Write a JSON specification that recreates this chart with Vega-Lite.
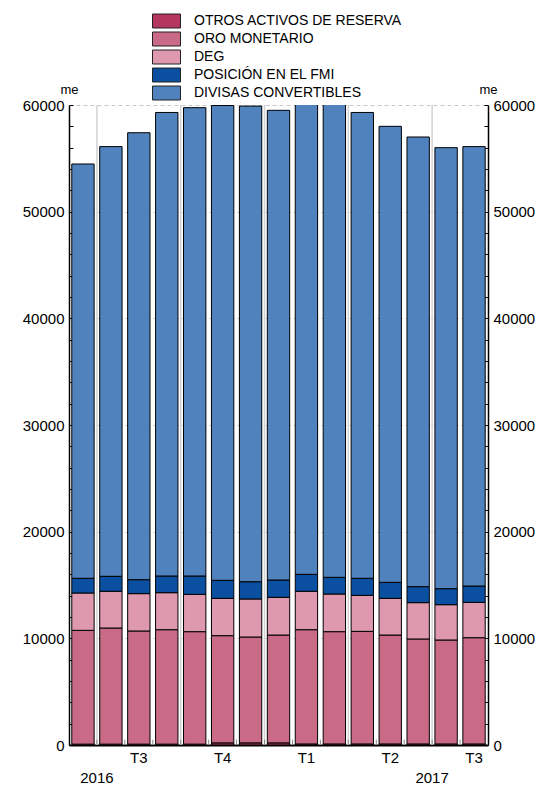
{
  "$schema": "https://vega.github.io/schema/vega-lite/v6.json",
  "width": 419,
  "height": 640,
  "autosize": {"type": "none"},
  "padding": {"left": 69, "top": 105, "right": 57, "bottom": 41},
  "config": {
    "view": {"stroke": null},
    "font": "Liberation Sans",
    "axis": {"labelColor": "#000", "titleColor": "#000", "domainColor": "#000", "tickColor": "#000", "labelFont": "Liberation Sans", "titleFont": "Liberation Sans"},
    "axisX": {
      "orient": "bottom", "ticks": false, "labelAngle": 0, "labelFontSize": 15,
      "labelPadding": 5, "labelLineHeight": 20, "labelBaseline": "top", "labelOverlap": false,
      "domainWidth": 2, "grid": false, "title": null
    },
    "legend": {"labelFont": "Liberation Sans"}
  },
  "datasets": {
    "reservas": [
      {"mes": "2016-06", "componente": "OTROS ACTIVOS DE RESERVA", "orden": 1, "valor": 80},
      {"mes": "2016-06", "componente": "ORO MONETARIO", "orden": 2, "valor": 10670},
      {"mes": "2016-06", "componente": "DEG", "orden": 3, "valor": 3500},
      {"mes": "2016-06", "componente": "POSICIÓN EN EL FMI", "orden": 4, "valor": 1380},
      {"mes": "2016-06", "componente": "DIVISAS CONVERTIBLES", "orden": 5, "valor": 38840},
      {"mes": "2016-07", "componente": "OTROS ACTIVOS DE RESERVA", "orden": 1, "valor": 80},
      {"mes": "2016-07", "componente": "ORO MONETARIO", "orden": 2, "valor": 10890},
      {"mes": "2016-07", "componente": "DEG", "orden": 3, "valor": 3440},
      {"mes": "2016-07", "componente": "POSICIÓN EN EL FMI", "orden": 4, "valor": 1405},
      {"mes": "2016-07", "componente": "DIVISAS CONVERTIBLES", "orden": 5, "valor": 40285},
      {"mes": "2016-08", "componente": "OTROS ACTIVOS DE RESERVA", "orden": 1, "valor": 80},
      {"mes": "2016-08", "componente": "ORO MONETARIO", "orden": 2, "valor": 10610},
      {"mes": "2016-08", "componente": "DEG", "orden": 3, "valor": 3500},
      {"mes": "2016-08", "componente": "POSICIÓN EN EL FMI", "orden": 4, "valor": 1310},
      {"mes": "2016-08", "componente": "DIVISAS CONVERTIBLES", "orden": 5, "valor": 41900},
      {"mes": "2016-09", "componente": "OTROS ACTIVOS DE RESERVA", "orden": 1, "valor": 80},
      {"mes": "2016-09", "componente": "ORO MONETARIO", "orden": 2, "valor": 10730},
      {"mes": "2016-09", "componente": "DEG", "orden": 3, "valor": 3470},
      {"mes": "2016-09", "componente": "POSICIÓN EN EL FMI", "orden": 4, "valor": 1565},
      {"mes": "2016-09", "componente": "DIVISAS CONVERTIBLES", "orden": 5, "valor": 43455},
      {"mes": "2016-10", "componente": "OTROS ACTIVOS DE RESERVA", "orden": 1, "valor": 80},
      {"mes": "2016-10", "componente": "ORO MONETARIO", "orden": 2, "valor": 10545},
      {"mes": "2016-10", "componente": "DEG", "orden": 3, "valor": 3500},
      {"mes": "2016-10", "componente": "POSICIÓN EN EL FMI", "orden": 4, "valor": 1720},
      {"mes": "2016-10", "componente": "DIVISAS CONVERTIBLES", "orden": 5, "valor": 43905},
      {"mes": "2016-11", "componente": "OTROS ACTIVOS DE RESERVA", "orden": 1, "valor": 200},
      {"mes": "2016-11", "componente": "ORO MONETARIO", "orden": 2, "valor": 10050},
      {"mes": "2016-11", "componente": "DEG", "orden": 3, "valor": 3500},
      {"mes": "2016-11", "componente": "POSICIÓN EN EL FMI", "orden": 4, "valor": 1690},
      {"mes": "2016-11", "componente": "DIVISAS CONVERTIBLES", "orden": 5, "valor": 44510},
      {"mes": "2016-12", "componente": "OTROS ACTIVOS DE RESERVA", "orden": 1, "valor": 200},
      {"mes": "2016-12", "componente": "ORO MONETARIO", "orden": 2, "valor": 9925},
      {"mes": "2016-12", "componente": "DEG", "orden": 3, "valor": 3565},
      {"mes": "2016-12", "componente": "POSICIÓN EN EL FMI", "orden": 4, "valor": 1620},
      {"mes": "2016-12", "componente": "DIVISAS CONVERTIBLES", "orden": 5, "valor": 44590},
      {"mes": "2017-01", "componente": "OTROS ACTIVOS DE RESERVA", "orden": 1, "valor": 200},
      {"mes": "2017-01", "componente": "ORO MONETARIO", "orden": 2, "valor": 10110},
      {"mes": "2017-01", "componente": "DEG", "orden": 3, "valor": 3535},
      {"mes": "2017-01", "componente": "POSICIÓN EN EL FMI", "orden": 4, "valor": 1625},
      {"mes": "2017-01", "componente": "DIVISAS CONVERTIBLES", "orden": 5, "valor": 44030},
      {"mes": "2017-02", "componente": "OTROS ACTIVOS DE RESERVA", "orden": 1, "valor": 100},
      {"mes": "2017-02", "componente": "ORO MONETARIO", "orden": 2, "valor": 10710},
      {"mes": "2017-02", "componente": "DEG", "orden": 3, "valor": 3600},
      {"mes": "2017-02", "componente": "POSICIÓN EN EL FMI", "orden": 4, "valor": 1590},
      {"mes": "2017-02", "componente": "DIVISAS CONVERTIBLES", "orden": 5, "valor": 44300},
      {"mes": "2017-03", "componente": "OTROS ACTIVOS DE RESERVA", "orden": 1, "valor": 100},
      {"mes": "2017-03", "componente": "ORO MONETARIO", "orden": 2, "valor": 10525},
      {"mes": "2017-03", "componente": "DEG", "orden": 3, "valor": 3530},
      {"mes": "2017-03", "componente": "POSICIÓN EN EL FMI", "orden": 4, "valor": 1565},
      {"mes": "2017-03", "componente": "DIVISAS CONVERTIBLES", "orden": 5, "valor": 44480},
      {"mes": "2017-04", "componente": "OTROS ACTIVOS DE RESERVA", "orden": 1, "valor": 100},
      {"mes": "2017-04", "componente": "ORO MONETARIO", "orden": 2, "valor": 10555},
      {"mes": "2017-04", "componente": "DEG", "orden": 3, "valor": 3375},
      {"mes": "2017-04", "componente": "POSICIÓN EN EL FMI", "orden": 4, "valor": 1600},
      {"mes": "2017-04", "componente": "DIVISAS CONVERTIBLES", "orden": 5, "valor": 43670},
      {"mes": "2017-05", "componente": "OTROS ACTIVOS DE RESERVA", "orden": 1, "valor": 100},
      {"mes": "2017-05", "componente": "ORO MONETARIO", "orden": 2, "valor": 10210},
      {"mes": "2017-05", "componente": "DEG", "orden": 3, "valor": 3440},
      {"mes": "2017-05", "componente": "POSICIÓN EN EL FMI", "orden": 4, "valor": 1500},
      {"mes": "2017-05", "componente": "DIVISAS CONVERTIBLES", "orden": 5, "valor": 42750},
      {"mes": "2017-06", "componente": "OTROS ACTIVOS DE RESERVA", "orden": 1, "valor": 100},
      {"mes": "2017-06", "componente": "ORO MONETARIO", "orden": 2, "valor": 9840},
      {"mes": "2017-06", "componente": "DEG", "orden": 3, "valor": 3405},
      {"mes": "2017-06", "componente": "POSICIÓN EN EL FMI", "orden": 4, "valor": 1500},
      {"mes": "2017-06", "componente": "DIVISAS CONVERTIBLES", "orden": 5, "valor": 42155},
      {"mes": "2017-07", "componente": "OTROS ACTIVOS DE RESERVA", "orden": 1, "valor": 100},
      {"mes": "2017-07", "componente": "ORO MONETARIO", "orden": 2, "valor": 9745},
      {"mes": "2017-07", "componente": "DEG", "orden": 3, "valor": 3310},
      {"mes": "2017-07", "componente": "POSICIÓN EN EL FMI", "orden": 4, "valor": 1500},
      {"mes": "2017-07", "componente": "DIVISAS CONVERTIBLES", "orden": 5, "valor": 41345},
      {"mes": "2017-08", "componente": "OTROS ACTIVOS DE RESERVA", "orden": 1, "valor": 100},
      {"mes": "2017-08", "componente": "ORO MONETARIO", "orden": 2, "valor": 9960},
      {"mes": "2017-08", "componente": "DEG", "orden": 3, "valor": 3315},
      {"mes": "2017-08", "componente": "POSICIÓN EN EL FMI", "orden": 4, "valor": 1530},
      {"mes": "2017-08", "componente": "DIVISAS CONVERTIBLES", "orden": 5, "valor": 41195}
    ],
    "meses": [
      {"mes": "2016-06", "inicio_trimestre": false},
      {"mes": "2016-07", "inicio_trimestre": true},
      {"mes": "2016-08", "inicio_trimestre": false},
      {"mes": "2016-09", "inicio_trimestre": false},
      {"mes": "2016-10", "inicio_trimestre": true},
      {"mes": "2016-11", "inicio_trimestre": false},
      {"mes": "2016-12", "inicio_trimestre": false},
      {"mes": "2017-01", "inicio_trimestre": true},
      {"mes": "2017-02", "inicio_trimestre": false},
      {"mes": "2017-03", "inicio_trimestre": false},
      {"mes": "2017-04", "inicio_trimestre": true},
      {"mes": "2017-05", "inicio_trimestre": false},
      {"mes": "2017-06", "inicio_trimestre": false},
      {"mes": "2017-07", "inicio_trimestre": true},
      {"mes": "2017-08", "inicio_trimestre": false}
    ]
  },
  "layer": [
    {
      "data": {"name": "meses"},
      "transform": [{"filter": "datum.inicio_trimestre"}],
      "mark": {"type": "rule", "color": "#d2d2d2", "strokeWidth": 1.5},
      "encoding": {
        "x": {
          "field": "mes", "type": "ordinal", "bandPosition": -0.125, "title": null,
          "scale": {"paddingInner": 0.2, "paddingOuter": 0.1},
          "axis": {
            "labelExpr": "indexof(datum.value,'-08')>0 ? 'T3' : indexof(datum.value,'-11')>0 ? 'T4' : indexof(datum.value,'-02')>0 ? 'T1' : indexof(datum.value,'-05')>0 ? 'T2' : datum.value == '2016-07' ? ['', '2016'] : datum.value == '2017-07' ? ['', '2017'] : ''",
            "labelOffset": {"condition": {"test": "datum.value == '2016-07' || datum.value == '2017-07'", "value": -14}, "value": 0}
          }
        }
      }
    },
    {
      "data": {"name": "reservas"},
      "mark": {"type": "bar", "stroke": "#000", "strokeWidth": 1, "clip": true},
      "encoding": {
        "x": {
          "field": "mes", "type": "ordinal", "title": null,
          "scale": {"paddingInner": 0.2, "paddingOuter": 0.1},
          "axis": {
            "labelExpr": "indexof(datum.value,'-08')>0 ? 'T3' : indexof(datum.value,'-11')>0 ? 'T4' : indexof(datum.value,'-02')>0 ? 'T1' : indexof(datum.value,'-05')>0 ? 'T2' : datum.value == '2016-07' ? ['', '2016'] : datum.value == '2017-07' ? ['', '2017'] : ''",
            "labelOffset": {"condition": {"test": "datum.value == '2016-07' || datum.value == '2017-07'", "value": -14}, "value": 0}
          }
        },
        "y": {
          "field": "valor", "type": "quantitative", "stack": "zero",
          "scale": {"domain": [0, 60000], "nice": false},
          "axis": {
            "orient": "left",
            "values": [0, 2000, 4000, 6000, 8000, 10000, 12000, 14000, 16000, 18000, 20000, 22000, 24000, 26000, 28000, 30000, 32000, 34000, 36000, 38000, 40000, 42000, 44000, 46000, 48000, 50000, 52000, 54000, 56000, 58000, 60000],
            "labelExpr": "datum.value % 10000 === 0 ? format(datum.value, 'd') : ''",
            "labelOverlap": false, "labelFlush": false,
            "tickSize": -4, "tickWidth": 1, "labelPadding": 9, "labelFontSize": 15,
            "domainWidth": 1.5,
            "title": "me", "titleAngle": 0, "titleX": 0, "titleY": -12, "titleAlign": "center",
            "titleBaseline": "alphabetic", "titleFontWeight": "normal", "titleFontSize": 13,
            "grid": true, "gridColor": "#c8c8c8", "gridDash": [4, 3],
            "gridOpacity": {"condition": {"test": "datum.value % 10000 === 0", "value": 1}, "value": 0}
          }
        },
        "order": {"field": "orden", "type": "quantitative", "sort": "ascending"},
        "color": {
          "field": "componente", "type": "nominal",
          "sort": ["OTROS ACTIVOS DE RESERVA", "ORO MONETARIO", "DEG", "POSICIÓN EN EL FMI", "DIVISAS CONVERTIBLES"],
          "scale": {
            "domain": ["OTROS ACTIVOS DE RESERVA", "ORO MONETARIO", "DEG", "POSICIÓN EN EL FMI", "DIVISAS CONVERTIBLES"],
            "range": ["#b5365f", "#c96b87", "#de99ae", "#0b4fa0", "#5083be"]
          },
          "legend": {
            "orient": "none", "legendX": 90, "legendY": -91.5, "title": null, "padding": 0,
            "symbolType": "M-2,-1H2V1H-2Z", "symbolSize": 196, "symbolStrokeColor": "#222",
            "symbolStrokeWidth": 1, "symbolOpacity": 1, "labelFontSize": 14, "labelColor": "#000",
            "labelOffset": 20, "rowPadding": -1, "labelLimit": 400
          }
        }
      }
    },
    {
      "data": {"name": "meses"},
      "transform": [{"filter": "datum.mes != '2016-06'"}],
      "mark": {"type": "rule", "color": "#888", "strokeWidth": 1},
      "encoding": {
        "x": {
          "field": "mes", "type": "ordinal", "bandPosition": -0.125, "title": null,
          "scale": {"paddingInner": 0.2, "paddingOuter": 0.1},
          "axis": {
            "labelExpr": "indexof(datum.value,'-08')>0 ? 'T3' : indexof(datum.value,'-11')>0 ? 'T4' : indexof(datum.value,'-02')>0 ? 'T1' : indexof(datum.value,'-05')>0 ? 'T2' : datum.value == '2016-07' ? ['', '2016'] : datum.value == '2017-07' ? ['', '2017'] : ''",
            "labelOffset": {"condition": {"test": "datum.value == '2016-07' || datum.value == '2017-07'", "value": -14}, "value": 0}
          }
        },
        "y": {
          "datum": 0, "type": "quantitative",
          "scale": {"domain": [0, 60000], "nice": false},
          "axis": {
            "orient": "right",
            "values": [0, 2000, 4000, 6000, 8000, 10000, 12000, 14000, 16000, 18000, 20000, 22000, 24000, 26000, 28000, 30000, 32000, 34000, 36000, 38000, 40000, 42000, 44000, 46000, 48000, 50000, 52000, 54000, 56000, 58000, 60000],
            "labelExpr": "datum.value % 10000 === 0 ? format(datum.value, 'd') : ''",
            "labelOverlap": false, "labelFlush": false,
            "tickSize": -4, "tickWidth": 1, "labelPadding": 9, "labelFontSize": 15,
            "domainWidth": 1.5, "grid": false,
            "title": "me", "titleAngle": 0, "titleX": 0, "titleY": -12, "titleAlign": "center",
            "titleBaseline": "alphabetic", "titleFontWeight": "normal", "titleFontSize": 13
          }
        },
        "y2": {"datum": 500}
      }
    }
  ],
  "resolve": {"axis": {"y": "independent"}}
}
